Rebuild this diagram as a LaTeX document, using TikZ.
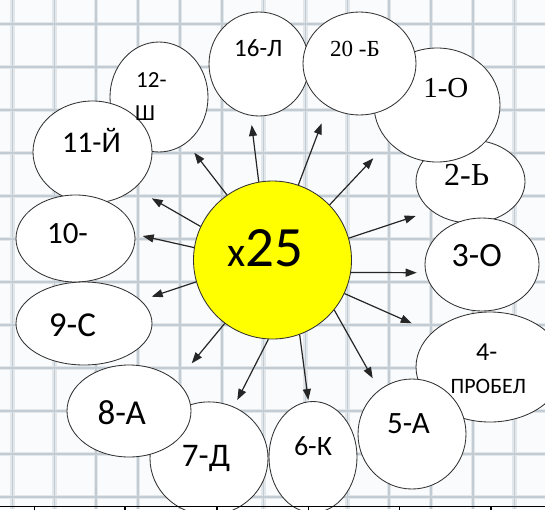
\documentclass[tikz,border=0pt]{standalone}
\usepackage{fontspec}
\setmainfont{Carlito}
\newfontfamily\tms{Liberation Serif}
\usetikzlibrary{arrows.meta,shapes.geometric}
\definecolor{gridc}{RGB}{196,204,211}
\definecolor{gridl}{RGB}{226,231,235}
\definecolor{paper}{RGB}{249,251,252}
\definecolor{outl}{RGB}{50,50,50}
\definecolor{sunc}{RGB}{255,255,0}
\tikzset{
 petal/.style={ellipse, draw=outl, line width=0.85pt, fill=white, inner sep=0pt},
 lbl/.style={inner sep=0pt, anchor=base, text=black},
 ray/.style={draw=black!85, line width=1.2pt, -{Triangle[length=11pt,width=8pt]}},
 gridwide/.style={gridl, line width=4.5pt},
 gridthin/.style={gridc, line width=1.5pt},
}
\newcommand{\fsz}[1]{\fontsize{#1}{#1}\selectfont}
\begin{document}
\begin{tikzpicture}[x=1pt,y=-1pt]
\useasboundingbox (0,0) rectangle (545,509);
\clip (0,0) rectangle (545,509);
\fill[paper] (0,0) rectangle (545,509);
% grid
\foreach \i in {0,...,12} {
  \draw[gridwide] ({12.5+41.85*\i},0) -- ({12.5+41.85*\i},509);
}
\foreach \j in {0,...,11} {
  \draw[gridwide] (0,{24+43*\j}) -- (545,{24+43*\j});
}
\foreach \i in {0,...,12} {
  \draw[gridthin] ({12.5+41.85*\i},0) -- ({12.5+41.85*\i},509);
}
\foreach \j in {0,...,11} {
  \draw[gridthin] (0,{24+43*\j}) -- (545,{24+43*\j});
}

% petals
\node[petal, minimum width=98pt, minimum height=110pt] (p12) at (159,97) {};
\node[petal, minimum width=119pt, minimum height=102pt] (p11) at (92.5,152) {};
\node[petal, minimum width=119pt, minimum height=87pt] (p10) at (75.5,238.5) {};
\node[petal, minimum width=136pt, minimum height=83pt] (p9) at (84,323.5) {};
\node[petal, minimum width=118pt, minimum height=113pt] (p7) at (209,458.4) {};
\node[petal, minimum width=124pt, minimum height=92pt] (p8) at (129,411) {};
\node[petal, minimum width=88pt, minimum height=111pt] (p6) at (313,457) {};
\node[petal, minimum width=148pt, minimum height=110pt] (p4) at (490,367) {};
\node[petal, minimum width=108pt, minimum height=110pt] (p5) at (412,434) {};
\node[petal, minimum width=109pt, minimum height=83pt] (p2) at (470.5,181.5) {};
\node[petal, minimum width=114pt, minimum height=93pt] (p3) at (482,264.5) {};
\node[petal, minimum width=126pt, minimum height=114pt] (p1) at (437,105) {};
\node[petal, minimum width=100pt, minimum height=104pt] (p16) at (259,64) {};
\node[petal, minimum width=113pt, minimum height=103pt] (p20) at (359.5,63.5) {};

% sun
\node[circle, draw=outl, line width=0.85pt, fill=sunc, inner sep=0pt, minimum size=158pt] (sun) at (272.5,260) {};

% arrow tips
\coordinate (a1) at (251.7,125);
\coordinate (a2) at (194.3,152.7);
\coordinate (a3) at (151.7,198.3);
\coordinate (a4) at (142.7,236);
\coordinate (a5) at (151.7,296.7);
\coordinate (a6) at (321.7,123.3);
\coordinate (a7) at (373.3,158.3);
\coordinate (a8) at (415.7,216);
\coordinate (a9) at (416.7,272.7);
\coordinate (a10) at (411.7,323.3);
\coordinate (a11) at (372.7,378.3);
\coordinate (a12) at (308.3,400);
\coordinate (a13) at (237.3,400);
\coordinate (a14) at (191.7,363.3);

\draw[ray] (sun.100.5) -- (a1);
\draw[ray] (sun.125.2) -- (a2);
\draw[ray] (sun.155.4) -- (a3);
\draw[ray] (sun.171.2) -- (a4);
\draw[ray] (sun.196.5) -- (a5);
\draw[ray] (sun.71) -- (a6);
\draw[ray] (sun.44.2) -- (a7);
\draw[ray] (sun.16.9) -- (a8);
\draw[ray] (sun.-9.1) -- (a9);
\draw[ray] (sun.-25.5) -- (a10);
\draw[ray] (sun.-39.6) -- (a11);
\draw[ray] (sun.-70.7) -- (a12);
\draw[ray] (sun.-93.1) -- (a13);
\draw[ray] (sun.-127.9) -- (a14);

% labels
\node[lbl] (tsun) at (265.5,266) {\fsz{42}x\fsz{57}25};
\node[lbl, anchor=base west] (t12a) at (136,87) {\fsz{23}12-};
\node[lbl, anchor=base west] (t12b) at (135,120) {\fsz{23}Ш};
\node[lbl] (t11) at (91.5,152) {\fsz{30}11-Й};
\node[lbl] (t10) at (67.5,243) {\fsz{31}10-};
\node[lbl] (t9) at (72.5,336.7) {\fsz{35}9-С};
\node[lbl] (t8) at (121.7,424) {\fsz{35}8-А};
\node[lbl] (t7) at (206,466) {\fsz{33}7-Д};
\node[lbl] (t6) at (313,455.6) {\fsz{28}6-К};
\node[lbl] (t5) at (408.5,433) {\fsz{31}5-А};
\node[lbl] (t4a) at (486.7,360) {\fsz{26}4-};
\node[lbl] (t4b) at (488.3,393.3) {\fsz{22}ПРОБЕЛ};
\node[lbl] (t3) at (476.7,266) {\fsz{34}3-О};
\node[lbl] (t2) at (466.7,185) {\tms\fsz{32}2-Ь};
\node[lbl] (t1) at (445.8,97.7) {\tms\fsz{29}1-О};
\node[lbl] (t20) at (355,56.7) {\tms\fsz{23}20 -Б};
\node[lbl] (t16) at (258.3,56) {\fsz{25}16-Л};

% bottom rule
\coordinate (bl) at (0,506.5);
\coordinate (br) at (545,506.5);
\draw[black, line width=1.5pt] (bl) -- (br);
\foreach \x in {34.8,125,217,308.6,399.7,491} {
  \draw[black, line width=1.2pt] (\x,506.5) -- (\x,510);
}
\end{tikzpicture}
\end{document}
